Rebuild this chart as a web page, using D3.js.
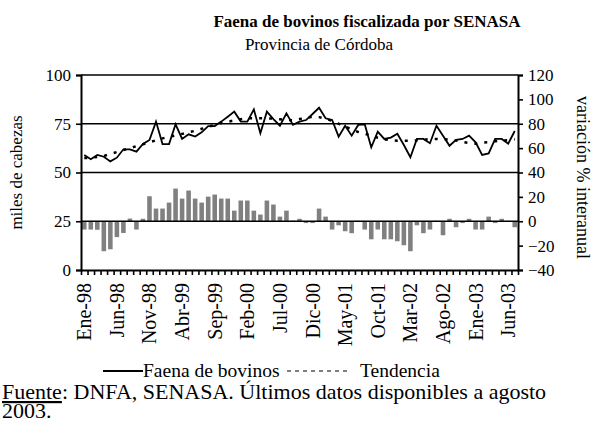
<!DOCTYPE html>
<html><head><meta charset="utf-8">
<script src="https://cdn.jsdelivr.net/npm/d3@7"></script>
<style>body{margin:0;background:#fff} svg{display:block} svg text{font-family:"Liberation Serif","Times New Roman",serif}</style>
</head><body><svg id="c" width="592" height="423"></svg>
<script>
const months = [
"Ene-98","Feb-98","Mar-98","Abr-98","May-98","Jun-98","Jul-98","Ago-98","Sep-98","Oct-98","Nov-98","Dic-98",
"Ene-99","Feb-99","Mar-99","Abr-99","May-99","Jun-99","Jul-99","Ago-99","Sep-99","Oct-99","Nov-99","Dic-99",
"Ene-00","Feb-00","Mar-00","Abr-00","May-00","Jun-00","Jul-00","Ago-00","Sep-00","Oct-00","Nov-00","Dic-00",
"Ene-01","Feb-01","Mar-01","Abr-01","May-01","Jun-01","Jul-01","Ago-01","Sep-01","Oct-01","Nov-01","Dic-01",
"Ene-02","Feb-02","Mar-02","Abr-02","May-02","Jun-02","Jul-02","Ago-02","Sep-02","Oct-02","Nov-02","Dic-02",
"Ene-03","Feb-03","Mar-03","Abr-03","May-03","Jun-03","Jul-03"];
const tickLabels = ["Ene-98","Jun-98","Nov-98","Abr-99","Sep-99","Feb-00","Jul-00","Dic-00","May-01","Oct-01","Mar-02","Ago-02","Ene-03","Jun-03"];
const faena = [59.0,56.8,59.0,58.1,55.7,57.6,61.9,61.9,60.7,64.6,
66.7,76.1,64.6,64.6,74.7,67.2,69.6,68.4,70.6,73.8,
73.8,76.1,78.6,81.2,76.1,76.1,82.4,70.1,81.2,77.4,
74.0,80.3,74.4,76.1,76.9,80.0,83.2,77.8,76.9,68.4,
74.0,68.9,74.4,74.7,62.9,70.9,67.2,67.9,69.9,64.1,
57.8,67.2,67.2,65.0,74.0,68.9,63.7,66.7,67.2,68.9,
65.5,59.0,59.8,67.2,67.2,64.8,71.3];
const tendencia = [57.5,57.5,58,58.5,59.5,60.5,61.5,62.5,63.5,64.5,
65.5,66.5,67.5,68.3,69,69.8,70.6,71.4,72.4,73.4,
74.4,75.4,76,76.7,77.3,77.8,77.8,77.8,77.8,77.6,
77.3,77,76.8,77.4,78,78.6,78.4,77.6,76.4,75,
73.7,72,70.8,69.9,69,67.8,67,66.6,66.3,66.3,
66.3,66.5,66.8,67.1,67.2,67.1,66.8,66.4,65.6,65.1,
64.8,65.3,65.6,66,66.3,66.6,67];
const variacion = [-6.8,-6.8,-7.0,-24.6,-23.0,-13.0,-9.6,2.2,-6.8,2.0,
20.5,10.4,10.4,15.3,26.8,18.6,25.2,18.6,15.3,20.2,
21.9,18.6,18.6,8.7,17.0,17.0,8.7,5.5,17.0,13.7,
3.8,8.7,0.5,2.0,-1.5,-1.5,10.4,3.8,-6.8,-3.3,
-8.2,-9.8,0.3,-6.8,-14.8,-6.8,-14.8,-14.8,-16.4,-19.7,
-24.6,-3.3,-9.8,-6.8,0.3,-11.5,2.0,-4.9,-1.5,2.0,
-6.8,-6.8,3.8,-1.5,2.0,0.3,-4.9];
const leftTicks = [0,25,50,75,100];
const rightTicks = [-40,-20,0,20,40,60,80,100,120];

const SERIF = "'Liberation Serif','Times New Roman',serif";
const svg = d3.select("#c");
const L = 81, R = 518, T = 75, B = 270;
const x = d3.scaleBand().domain(months).range([L,R]).paddingInner(0.3).paddingOuter(0.15);
const xi = d3.scaleLinear().domain([0, months.length]).range([L,R]);
const yL = d3.scaleLinear().domain([0,100]).range([B,T]);
const yR = d3.scaleLinear().domain([-40,120]).range([B,T]);
const cx = m => x(m) + x.bandwidth()/2;

// title
svg.append("text").attr("x",367).attr("y",27).attr("text-anchor","middle")
  .attr("font-weight","bold").attr("font-size",17).text("Faena de bovinos fiscalizada por SENASA");
svg.append("text").attr("x",319).attr("y",50).attr("text-anchor","middle")
  .attr("font-size",17).text("Provincia de Córdoba");

// bars
svg.append("g").selectAll("rect").data(months).join("rect")
  .attr("x", m => x(m)).attr("width", x.bandwidth())
  .attr("y", (m,i) => yR(Math.max(0, variacion[i])))
  .attr("height", (m,i) => Math.abs(yR(variacion[i]) - yR(0)))
  .attr("fill","#808080");

// gridlines
svg.append("g").selectAll("line").data(leftTicks.slice(1)).join("line")
  .attr("x1",L).attr("x2",R).attr("y1",d=>yL(d)).attr("y2",d=>yL(d))
  .attr("stroke","#000").attr("stroke-width",1.6);

// lines
svg.append("path").datum(tendencia)
  .attr("d", d3.line().x((d,i)=>cx(months[i])).y(d=>yL(d)))
  .attr("fill","none").attr("stroke","#000").attr("stroke-width",2.5).attr("stroke-dasharray","3,7");
svg.append("path").datum(faena)
  .attr("d", d3.line().x((d,i)=>cx(months[i])).y(d=>yL(d)))
  .attr("fill","none").attr("stroke","#000").attr("stroke-width",1.8).attr("stroke-linejoin","miter");

// axes
const gl = svg.append("g").attr("transform",`translate(${L},0)`)
  .call(d3.axisLeft(yL).tickValues(leftTicks).tickSize(5).tickPadding(5));
const gr = svg.append("g").attr("transform",`translate(${R},0)`)
  .call(d3.axisRight(yR).tickValues(rightTicks).tickSize(5).tickPadding(5));
const gb = svg.append("g").attr("transform",`translate(0,${B})`)
  .call(d3.axisBottom(xi).tickValues(d3.range(0, months.length+1)).tickFormat("").tickSize(5).tickSizeOuter(0));
[gl,gr,gb].forEach(g=>{
  g.attr("font-family",SERIF).attr("font-size",17);
  g.selectAll("path").attr("stroke","#000").attr("stroke-width",2);
  g.selectAll("line").attr("stroke","#000").attr("stroke-width",1.6);
  g.selectAll("text").attr("font-family",SERIF).attr("font-size",17).attr("fill","#000");
});

// x labels
svg.append("g").attr("font-family",SERIF).selectAll("text").data(tickLabels).join("text")
  .attr("transform", m => `translate(${cx(m)},${B+13}) rotate(-90)`)
  .attr("text-anchor","end").attr("dy","0.35em").attr("font-size",20).attr("font-family",SERIF).text(m=>m);

// axis titles
svg.append("text").attr("transform",`translate(22,${(T+B)/2}) rotate(-90)`)
  .attr("text-anchor","middle").attr("font-size",17).attr("font-family",SERIF).text("miles de cabezas");
svg.append("text").attr("transform",`translate(577,${(T+B)/2+5}) rotate(90)`)
  .attr("text-anchor","middle").attr("font-size",18).attr("font-family",SERIF).text("variación % interanual");

// legend
svg.append("line").attr("x1",103).attr("x2",143).attr("y1",371).attr("y2",371).attr("stroke","#000").attr("stroke-width",1.8);
svg.append("text").attr("x",143).attr("y",377).attr("font-size",19.5).attr("font-family",SERIF).text("Faena de bovinos");
svg.append("line").attr("x1",287).attr("x2",347).attr("y1",371).attr("y2",371).attr("stroke","#000").attr("stroke-width",1).attr("stroke-dasharray","4,4");
svg.append("text").attr("x",360).attr("y",377).attr("font-size",19.5).attr("font-family",SERIF).text("Tendencia");

// footer
const f = svg.append("text").attr("x",2).attr("y",399).attr("font-size",22).attr("font-family",SERIF);
f.append("tspan").attr("text-decoration","underline").text("Fuente");
f.append("tspan").text(": DNFA, SENASA. Últimos datos disponibles a agosto");
svg.append("text").attr("x",2).attr("y",418).attr("font-size",22).attr("font-family",SERIF).text("2003.");
</script></body></html>
